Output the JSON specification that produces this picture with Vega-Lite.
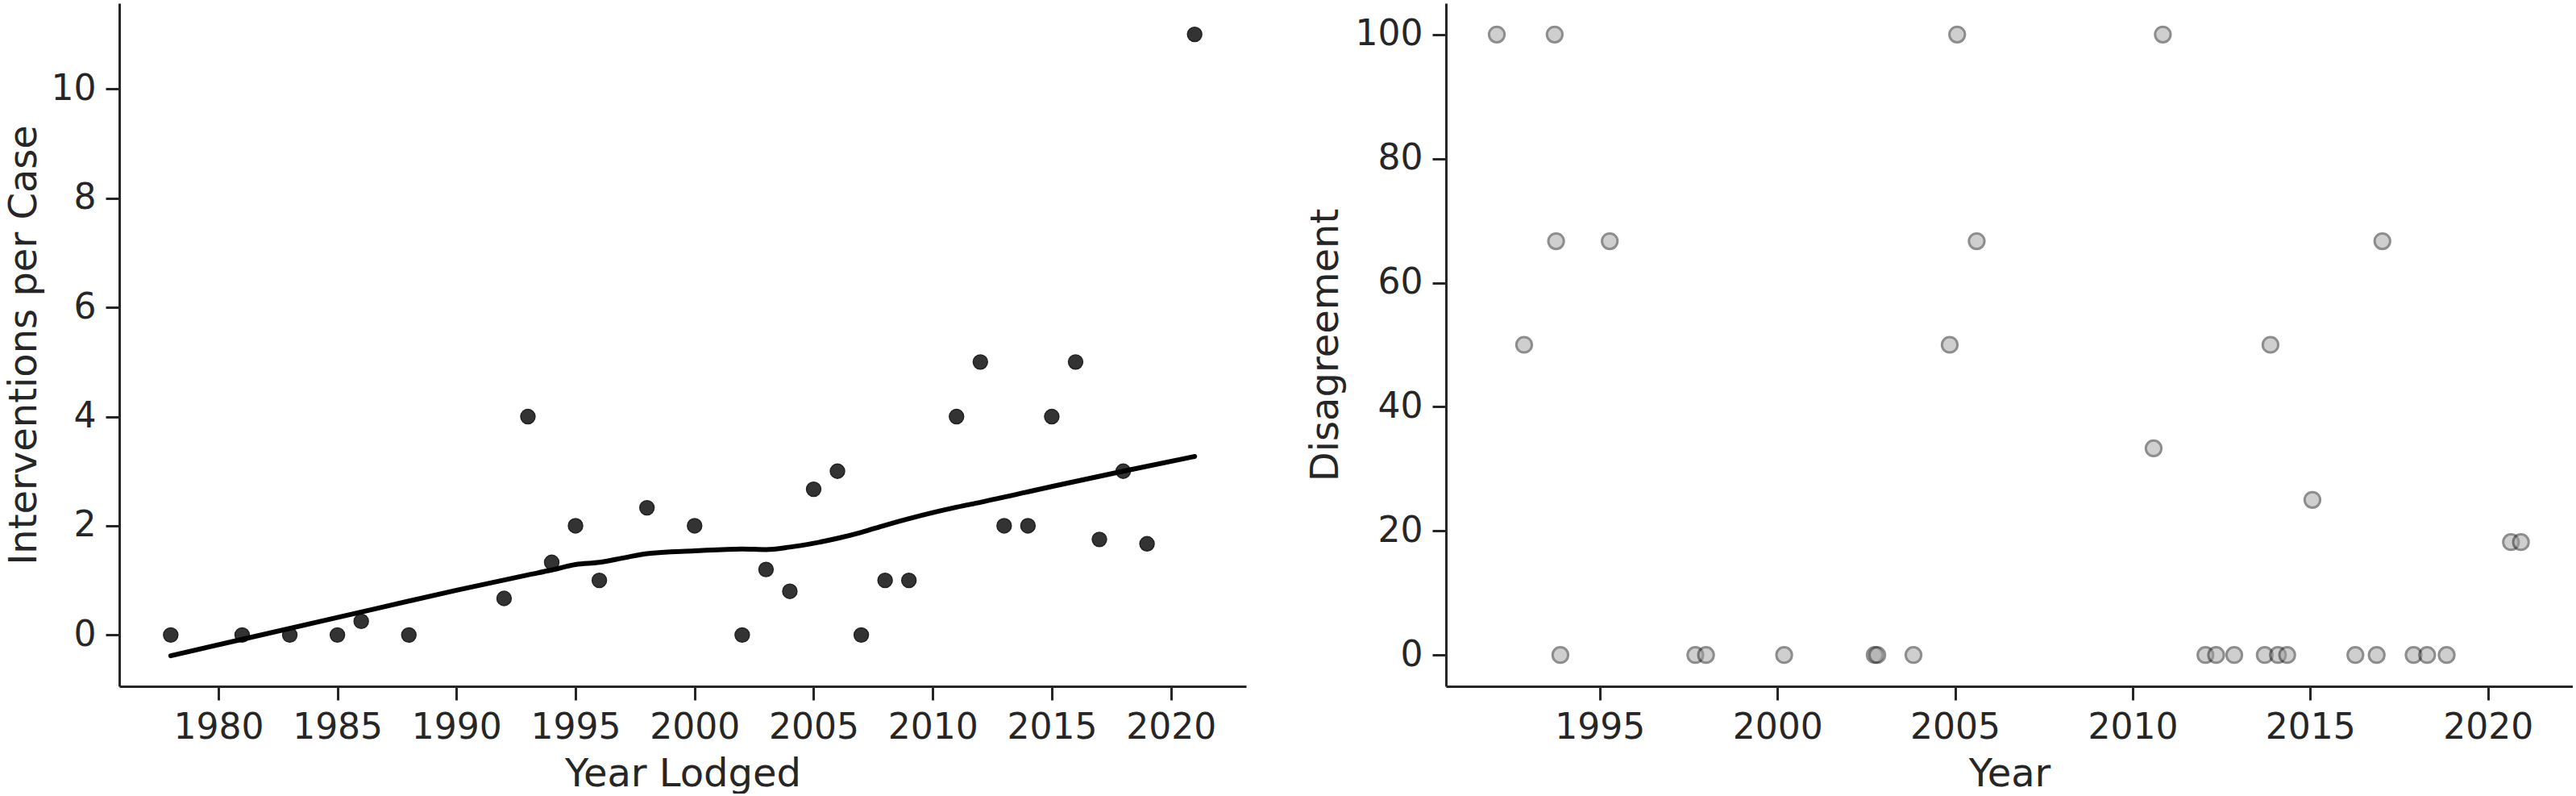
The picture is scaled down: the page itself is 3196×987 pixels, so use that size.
{
  "$schema": "https://vega.github.io/schema/vega-lite/v6.json",
  "background": "white",
  "padding": {"left": 6, "top": 4, "right": 0, "bottom": 0},
  "spacing": 248,
  "bounds": "flush",
  "config": {
    "view": {"stroke": null},
    "axis": {
      "grid": false,
      "domainColor": "#262626",
      "domainWidth": 3,
      "tickColor": "#262626",
      "tickWidth": 3,
      "tickSize": 17,
      "labelFont": "DejaVu Sans",
      "labelFontSize": 44,
      "labelColor": "#262626",
      "labelPadding": 12,
      "labelFlush": false,
      "labelOverlap": false,
      "titleFont": "DejaVu Sans",
      "titleFontSize": 48,
      "titleFontWeight": "normal",
      "titleColor": "#262626",
      "titlePadding": 12
    }
  },
  "datasets": {
    "interventions": [
      {"year": 1978, "value": 0},
      {"year": 1981, "value": 0},
      {"year": 1983, "value": 0},
      {"year": 1985, "value": 0},
      {"year": 1986, "value": 0.25},
      {"year": 1988, "value": 0},
      {"year": 1992, "value": 0.67},
      {"year": 1993, "value": 4},
      {"year": 1994, "value": 1.33},
      {"year": 1995, "value": 2},
      {"year": 1996, "value": 1},
      {"year": 1998, "value": 2.33},
      {"year": 2000, "value": 2},
      {"year": 2002, "value": 0},
      {"year": 2003, "value": 1.2},
      {"year": 2004, "value": 0.8},
      {"year": 2005, "value": 2.67},
      {"year": 2006, "value": 3},
      {"year": 2007, "value": 0},
      {"year": 2008, "value": 1},
      {"year": 2009, "value": 1},
      {"year": 2011, "value": 4},
      {"year": 2012, "value": 5},
      {"year": 2013, "value": 2},
      {"year": 2014, "value": 2},
      {"year": 2015, "value": 4},
      {"year": 2016, "value": 5},
      {"year": 2017, "value": 1.75},
      {"year": 2018, "value": 3},
      {"year": 2019, "value": 1.67},
      {"year": 2021, "value": 11}
    ],
    "trend": [
      {"year": 1978, "fit": -0.38},
      {"year": 1981, "fit": -0.08},
      {"year": 1985, "fit": 0.32},
      {"year": 1990, "fit": 0.82},
      {"year": 1993, "fit": 1.1},
      {"year": 1994, "fit": 1.19},
      {"year": 1995, "fit": 1.29},
      {"year": 1996, "fit": 1.33},
      {"year": 1997, "fit": 1.41},
      {"year": 1998, "fit": 1.49},
      {"year": 2000, "fit": 1.54},
      {"year": 2002, "fit": 1.575},
      {"year": 2003, "fit": 1.565},
      {"year": 2004, "fit": 1.61},
      {"year": 2005, "fit": 1.68},
      {"year": 2006, "fit": 1.77},
      {"year": 2007, "fit": 1.88},
      {"year": 2008, "fit": 2.01},
      {"year": 2009, "fit": 2.13},
      {"year": 2010, "fit": 2.24},
      {"year": 2011, "fit": 2.34},
      {"year": 2012, "fit": 2.43},
      {"year": 2015, "fit": 2.72},
      {"year": 2018, "fit": 3.0},
      {"year": 2021, "fit": 3.27}
    ],
    "disagreement": [
      {"year": 1992.1, "value": 100},
      {"year": 1993.73, "value": 100},
      {"year": 1993.77, "value": 66.7},
      {"year": 1992.87, "value": 50},
      {"year": 1993.89, "value": 0},
      {"year": 1995.28, "value": 66.7},
      {"year": 1997.69, "value": 0},
      {"year": 1997.99, "value": 0},
      {"year": 2000.19, "value": 0},
      {"year": 2002.74, "value": 0},
      {"year": 2002.81, "value": 0},
      {"year": 2003.83, "value": 0},
      {"year": 2004.85, "value": 50},
      {"year": 2005.06, "value": 100},
      {"year": 2005.61, "value": 66.7},
      {"year": 2010.59, "value": 33.3},
      {"year": 2010.85, "value": 100},
      {"year": 2012.05, "value": 0},
      {"year": 2012.35, "value": 0},
      {"year": 2012.86, "value": 0},
      {"year": 2013.72, "value": 0},
      {"year": 2013.88, "value": 50},
      {"year": 2014.09, "value": 0},
      {"year": 2014.35, "value": 0},
      {"year": 2015.06, "value": 25},
      {"year": 2016.27, "value": 0},
      {"year": 2016.87, "value": 0},
      {"year": 2017.03, "value": 66.7},
      {"year": 2017.91, "value": 0},
      {"year": 2018.29, "value": 0},
      {"year": 2018.84, "value": 0},
      {"year": 2020.65, "value": 18.2},
      {"year": 2020.93, "value": 18.2}
    ]
  },
  "hconcat": [
    {
      "width": 1398,
      "height": 847,
      "layer": [
        {
          "data": {"name": "interventions"},
          "mark": {"type": "point", "filled": true, "shape": "circle", "size": 320, "color": "#333333", "stroke": "#222222", "strokeWidth": 1.5, "opacity": 1},
          "encoding": {
            "x": {
              "field": "year",
              "type": "quantitative",
              "scale": {"domain": [1975.84, 2023.16], "nice": false, "zero": false},
              "axis": {"title": "Year Lodged", "values": [1980, 1985, 1990, 1995, 2000, 2005, 2010, 2015, 2020], "format": "d"}
            },
            "y": {
              "field": "value",
              "type": "quantitative",
              "scale": {"domain": [-0.94, 11.57], "nice": false, "zero": false},
              "axis": {"title": "Interventions per Case", "values": [0, 2, 4, 6, 8, 10], "format": "d", "titlePadding": 9}
            }
          }
        },
        {
          "data": {"name": "trend"},
          "mark": {"type": "line", "color": "#000000", "strokeWidth": 6, "strokeCap": "round", "interpolate": "monotone"},
          "encoding": {
            "x": {"field": "year", "type": "quantitative"},
            "y": {"field": "fit", "type": "quantitative"}
          }
        }
      ]
    },
    {
      "width": 1398,
      "height": 847,
      "data": {"name": "disagreement"},
      "mark": {"type": "point", "filled": true, "shape": "circle", "size": 370, "fill": "#a0a0a0", "stroke": "#1e1e1e", "strokeWidth": 3, "opacity": 0.5},
      "encoding": {
        "x": {
          "field": "year",
          "type": "quantitative",
          "scale": {"domain": [1990.67, 2022.39], "nice": false, "zero": false},
          "axis": {"title": "Year", "values": [1995, 2000, 2005, 2010, 2015, 2020], "format": "d"}
        },
        "y": {
          "field": "value",
          "type": "quantitative",
          "scale": {"domain": [-5.05, 105.05], "nice": false, "zero": false},
          "axis": {"title": "Disagreement", "values": [0, 20, 40, 60, 80, 100], "format": "d"}
        }
      }
    }
  ]
}
